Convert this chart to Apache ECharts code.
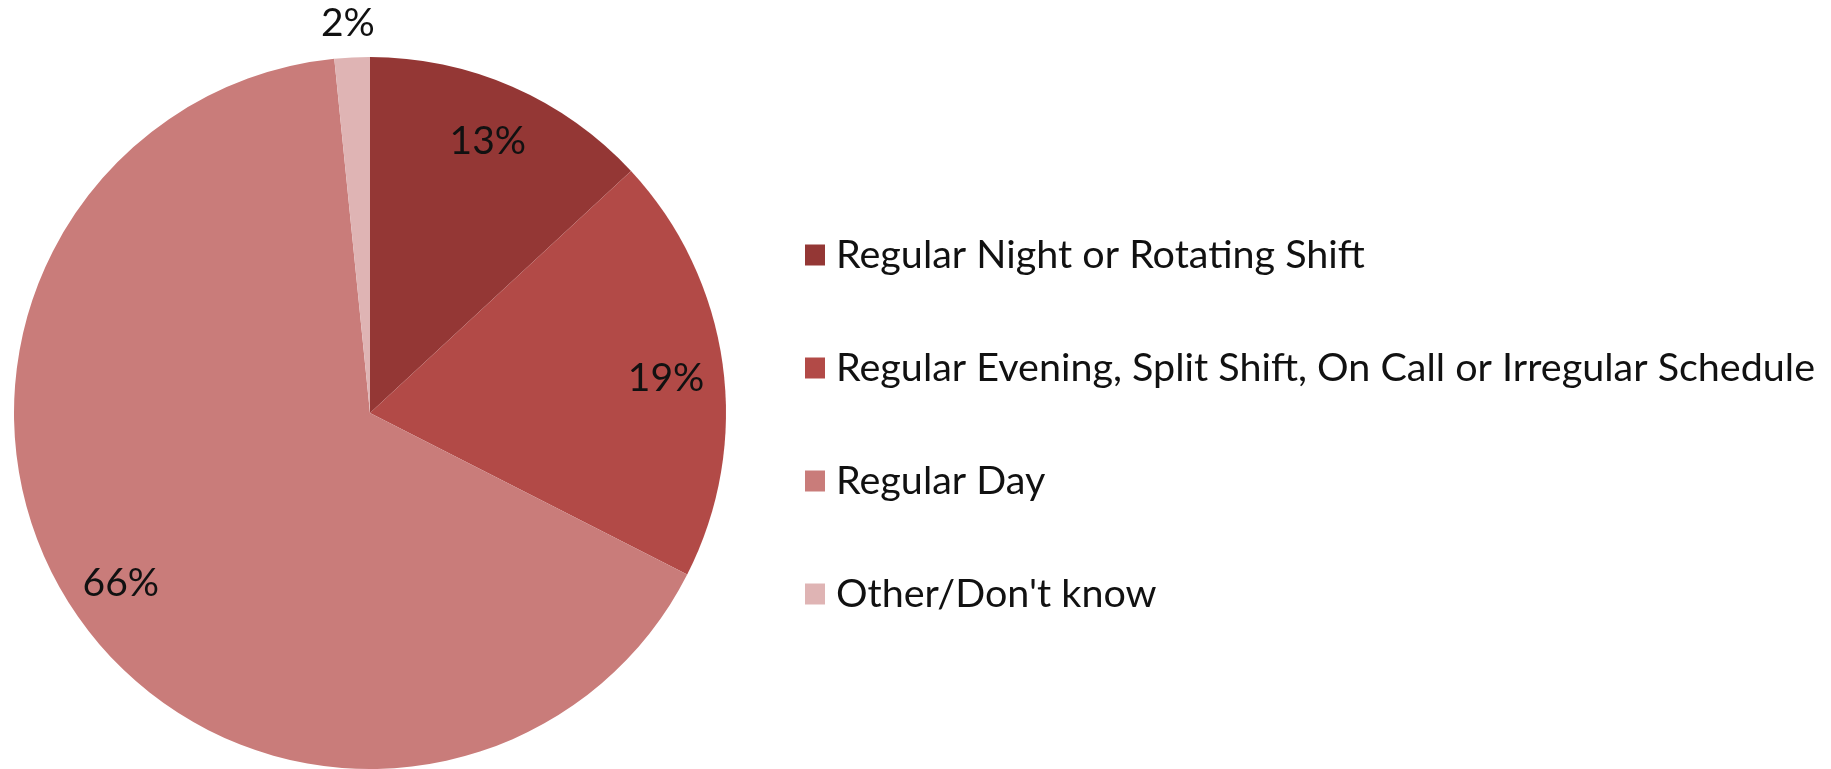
<!DOCTYPE html>
<html>
<head>
<meta charset="utf-8">
<script src="https://cdn.jsdelivr.net/npm/echarts@6/dist/echarts.min.js"></script>
<style>
html,body{margin:0;padding:0;background:#fff;}
#chart{width:1831px;height:769px;}
</style>
</head>
<body>
<div id="chart"></div>
<script>
const categories = [
  "Regular Night or Rotating Shift",
  "Regular Evening, Split Shift, On Call or Irregular Schedule",
  "Regular Day",
  "Other/Don't know"
];
const values = [13.1, 19.4, 65.9, 1.6];
const colors = ["#943735", "#B24A47", "#C97C7A", "#DFB4B4"];

const FONT = "Lato";
const chart = echarts.init(document.getElementById('chart'), null, {renderer: 'canvas'});

const labelOffsets = [[-3, 5], [-3, 7], [0, 0], [-7, -88]];
const pieData = categories.map((c, i) => ({name: c, value: values[i], itemStyle: {color: colors[i]}}));
const labelData = categories.map((c, i) => ({
  name: c, value: values[i],
  itemStyle: {color: 'rgba(0,0,0,0)'},
  label: {offset: labelOffsets[i]}
}));

chart.setOption({
  backgroundColor: '#ffffff',
  animation: false,
  legend: {
    orient: 'vertical',
    left: 800,
    top: 229,
    itemWidth: 20,
    itemHeight: 21,
    itemGap: 71,
    selectedMode: false,
    icon: 'rect',
    textStyle: {fontFamily: FONT, fontSize: 39.5, color: '#111', lineHeight: 42, padding: [0, 0, 0, 6]},
    data: categories.map((c, i) => ({name: c, itemStyle: {color: colors[i], opacity: 1}}))
  },
  series: [
    {
      type: 'pie',
      center: [370, 413],
      radius: [0, 356],
      startAngle: 90,
      clockwise: true,
      label: {show: false},
      labelLine: {show: false},
      itemStyle: {borderWidth: 0},
      emphasis: {disabled: true},
      data: pieData
    },
    {
      type: 'pie',
      silent: true,
      center: [370, 413],
      radius: [242, 356],
      startAngle: 90,
      clockwise: true,
      itemStyle: {borderWidth: 0},
      emphasis: {disabled: true},
      labelLine: {show: false},
      label: {
        show: true,
        position: 'inside',
        fontFamily: FONT,
        fontSize: 39,
        color: '#111',
        opacity: 1,
        formatter: p => Math.round(p.value) + '%'
      },
      data: labelData
    }
  ]
});
</script>
</body>
</html>
